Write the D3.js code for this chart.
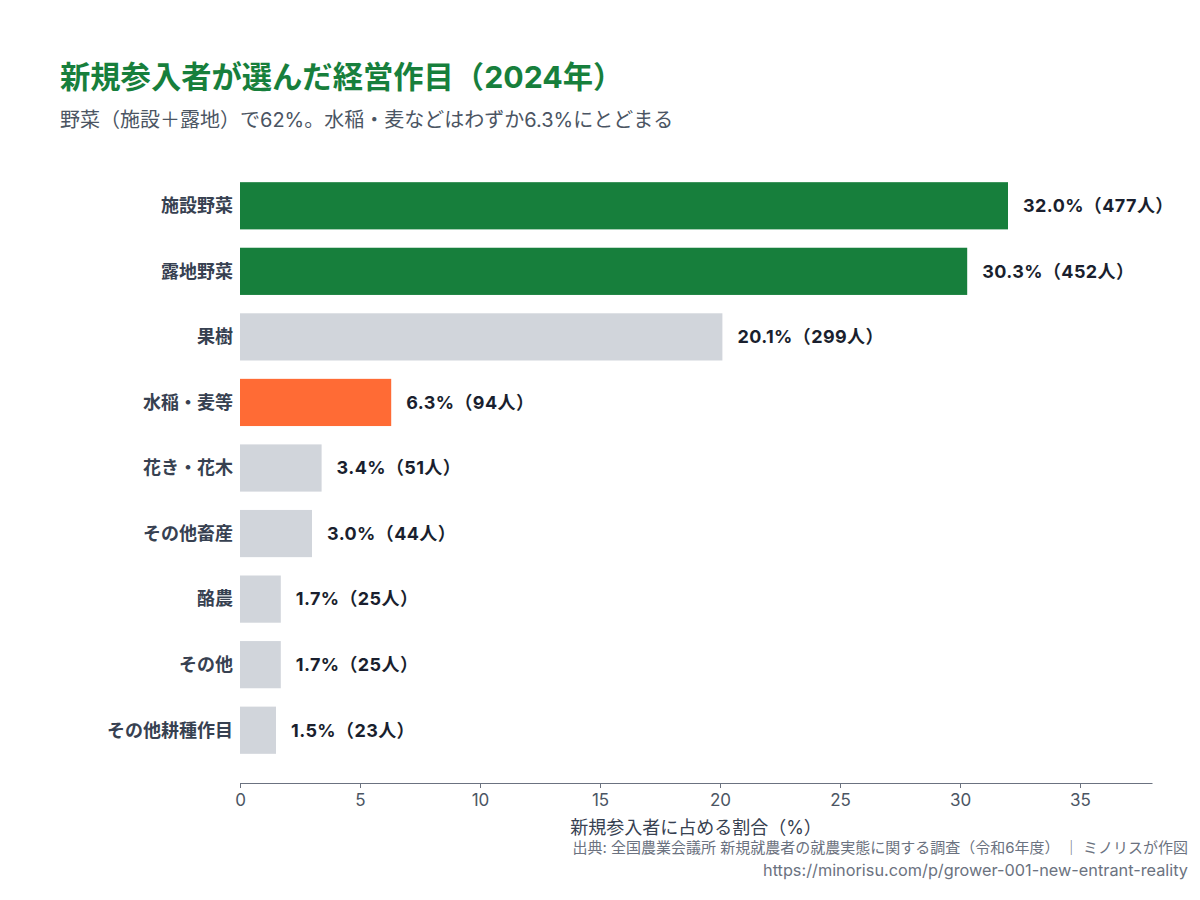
<!DOCTYPE html>
<html lang="ja">
<head>
<meta charset="utf-8">
<script src="https://cdn.jsdelivr.net/npm/d3@7"></script>
<style>
  body { margin: 0; background: #fff; }
  svg { font-family: Inter, "Noto Sans CJK JP", sans-serif; }
</style>
</head>
<body>
<div id="chart"></div>
<script>
'use strict';

// Data
const categories = ['施設野菜', '露地野菜', '果樹', '水稲・麦等', '花き・花木', 'その他畜産', '酪農', 'その他', 'その他耕種作目'];
const shares = [32.0, 30.3, 20.1, 6.3, 3.4, 3.0, 1.7, 1.7, 1.5];
const people = [477, 452, 299, 94, 51, 44, 25, 25, 23];
const groups = ['veg', 'veg', 'other', 'rice', 'other', 'other', 'other', 'other', 'other'];
const ticks = [0, 5, 10, 15, 20, 25, 30, 35];

const colors = { veg: '#177f3c', rice: '#ff6b35', other: '#d1d5db' };

const width = 1200, height = 900;
const margins = { left: 240, right: 48, top: 173, bottom: 137 };

const svg = d3.select('#chart').append('svg')
    .attr('width', width)
    .attr('height', height);

// Title and subtitle
svg.append('text')
    .attr('x', 60).attr('y', 88)
    .style('font-size', '30.3px').style('font-weight', 700)
    .attr('fill', '#177f3c')
    .text('新規参入者が選んだ経営作目（2024年）');

svg.append('text')
    .attr('x', 60).attr('y', 127)
    .style('font-size', '20px')
    .attr('fill', '#4b5563')
    .text('野菜（施設＋露地）で62%。水稲・麦などはわずか6.3%にとどまる');

const rows = categories.map((c, i) => ({ cat: c, share: shares[i], n: people[i], group: groups[i] }));

const scaleX = d3.scaleLinear()
    .domain([0, 38])
    .range([margins.left, width - margins.right]);

const scaleY = d3.scaleBand()
    .domain(categories)
    .range([margins.top, 763])
    .paddingInner(0.28)
    .paddingOuter(0.14);

const chart = svg.append('g');

// Bars
chart.selectAll('rect.bar')
    .data(rows)
    .join('rect')
    .classed('bar', true)
    .attr('x', scaleX(0))
    .attr('y', d => scaleY(d.cat))
    .attr('width', d => scaleX(d.share) - scaleX(0))
    .attr('height', scaleY.bandwidth())
    .attr('fill', d => colors[d.group]);

// Value labels
chart.selectAll('text.value')
    .data(rows)
    .join('text')
    .classed('value', true)
    .attr('x', d => scaleX(d.share) + 15)
    .attr('y', d => scaleY(d.cat) + scaleY.bandwidth() / 2)
    .attr('dy', '0.35em')
    .style('font-size', '18px').style('font-weight', 700)
    .style('letter-spacing', '0.4px')
    .attr('fill', '#1a1f2e')
    .text(d => `${d.share.toFixed(1)}%（${d.n}人）`);

// Category labels
chart.selectAll('text.cat')
    .data(rows)
    .join('text')
    .classed('cat', true)
    .attr('x', margins.left - 7)
    .attr('y', d => scaleY(d.cat) + scaleY.bandwidth() / 2)
    .attr('dy', '0.35em')
    .attr('text-anchor', 'end')
    .style('font-size', '18px').style('font-weight', 700)
    .attr('fill', '#374151')
    .text(d => d.cat);

// X axis
const axisY = height - margins.bottom + 20;
const axisX = svg.append('g')
    .attr('transform', `translate(0, ${axisY})`)
    .call(d3.axisBottom(scaleX).tickValues(ticks).tickSize(5).tickSizeOuter(0));

axisX.select('.domain').attr('stroke', '#6b7280');
axisX.selectAll('.tick line').attr('stroke', '#6b7280').attr('y2', 5);
axisX.selectAll('.tick text')
    .attr('y', 11)
    .style('font-size', '17px')
    .style('font-family', 'Inter, sans-serif')
    .attr('fill', '#4b5563');

svg.append('text')
    .attr('x', (scaleX.range()[0] + scaleX.range()[1]) / 2)
    .attr('y', 834)
    .attr('text-anchor', 'middle')
    .style('font-size', '18px')
    .attr('fill', '#374151')
    .text('新規参入者に占める割合（%）');

// Source notes
svg.append('text')
    .attr('x', 1188).attr('y', 853)
    .attr('text-anchor', 'end')
    .style('font-size', '15px')
    .attr('fill', '#6b7280')
    .text('出典: 全国農業会議所 新規就農者の就農実態に関する調査（令和6年度） ｜ ミノリスが作図');

svg.append('text')
    .attr('x', 1188).attr('y', 876)
    .attr('text-anchor', 'end')
    .style('font-size', '16.3px')
    .attr('fill', '#6b7280')
    .text('https://minorisu.com/p/grower-001-new-entrant-reality');
</script>
</body>
</html>
